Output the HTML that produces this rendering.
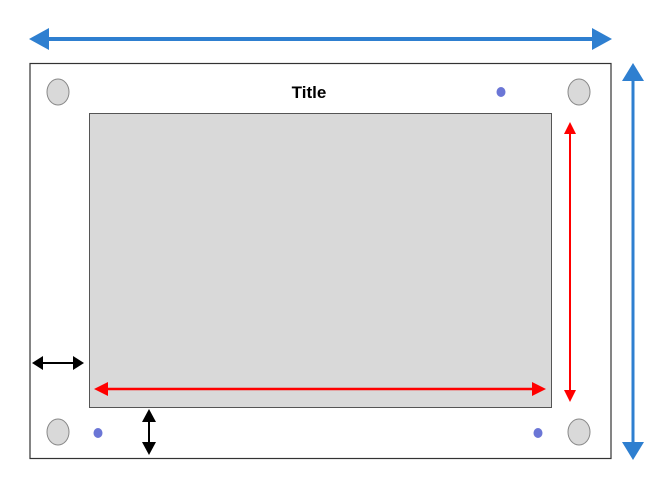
<!DOCTYPE html>
<html><head><meta charset="utf-8"><style>html,body{margin:0;padding:0;background:#fff}svg{display:block}</style></head>
<body>
<svg width="665" height="501" viewBox="0 0 665 501">
<rect x="30" y="63.5" width="581" height="395" fill="#fff" stroke="#333" stroke-width="1.2"/>
<rect x="89.5" y="113.5" width="462" height="294" fill="#d9d9d9" stroke="#555" stroke-width="1"/>
<text x="309" y="98" text-anchor="middle" font-family="Liberation Sans, sans-serif" font-weight="bold" font-size="17" fill="#000">Title</text>
<g fill="#d9d9d9" stroke="#888" stroke-width="1">
<ellipse cx="58" cy="92" rx="11" ry="13"/>
<ellipse cx="579" cy="92" rx="11" ry="13"/>
<ellipse cx="58" cy="432" rx="11" ry="13"/>
<ellipse cx="579" cy="432" rx="11" ry="13"/>
</g>
<g fill="#6b76d6">
<ellipse cx="501" cy="92" rx="4.5" ry="5"/>
<ellipse cx="98" cy="433" rx="4.5" ry="5"/>
<ellipse cx="538" cy="433" rx="4.5" ry="5"/>
</g>
<g>
<line x1="45" y1="39" x2="596" y2="39" stroke="#2e7fd0" stroke-width="4"/>
<polygon points="29,39 49,28 49,50" fill="#2e7fd0"/>
<polygon points="612,39 592,28 592,50" fill="#2e7fd0"/>
</g>
<g>
<line x1="633" y1="80" x2="633" y2="444" stroke="#2e7fd0" stroke-width="3"/>
<polygon points="633,63 622,81 644,81" fill="#2e7fd0"/>
<polygon points="633,460 622,442 644,442" fill="#2e7fd0"/>
</g>
<g>
<line x1="570" y1="133" x2="570" y2="392" stroke="#f00" stroke-width="2"/>
<polygon points="570,122 564,134 576,134" fill="#f00"/>
<polygon points="570,402 564,390 576,390" fill="#f00"/>
</g>
<g>
<line x1="104" y1="389" x2="536" y2="389" stroke="#f00" stroke-width="2.5"/>
<polygon points="94,389 108,382 108,396" fill="#f00"/>
<polygon points="546,389 532,382 532,396" fill="#f00"/>
</g>
<g>
<line x1="40" y1="363" x2="76" y2="363" stroke="#000" stroke-width="2"/>
<polygon points="32,363 43,356 43,370" fill="#000"/>
<polygon points="84,363 73,356 73,370" fill="#000"/>
</g>
<g>
<line x1="149" y1="418" x2="149" y2="446" stroke="#000" stroke-width="2"/>
<polygon points="149,409 142,422 156,422" fill="#000"/>
<polygon points="149,455 142,442 156,442" fill="#000"/>
</g>
</svg>
</body></html>
